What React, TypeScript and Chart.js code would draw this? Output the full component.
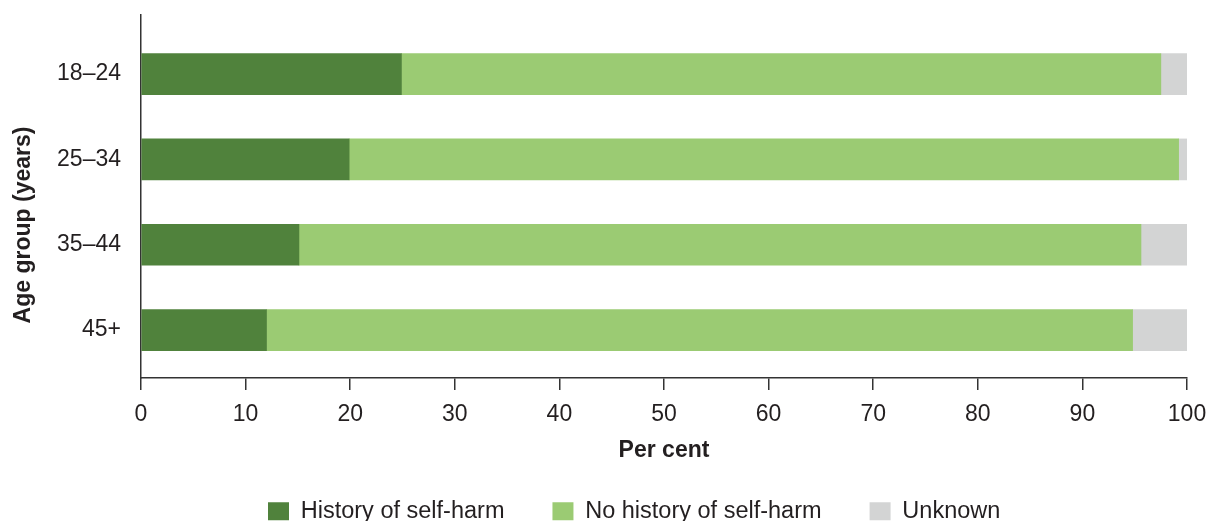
import React, { useEffect, useRef } from "react";
import { Chart, registerables } from "chart.js";

Chart.register(...registerables);

const categories = ["18–24", "25–34", "35–44", "45+"];
const seriesNames = ["History of self-harm", "No history of self-harm", "Unknown"];
const historyValues = [24.9, 19.9, 15.1, 12.0];
const noHistoryValues = [72.6, 79.3, 80.5, 82.8];
const unknownValues = [2.5, 0.8, 4.4, 5.2];
const seriesColors = ["#50823C", "#9BCB73", "#D3D4D4"];
const xAxisTitle = "Per cent";
const yAxisTitle = "Age group (years)";

const FONT = '"Liberation Sans", Arial, Helvetica, sans-serif';
const TEXT = "#231F20";
const AXIS = "#333333";

export default function App() {
  const ref = useRef<HTMLCanvasElement | null>(null);

  useEffect(() => {
    if (!ref.current) return;
    const toPoints = (vals: number[]) => vals.map((v, i) => ({ x: v, y: i }));
    const seriesValues = [historyValues, noHistoryValues, unknownValues];

    const customPlugin = {
      id: "customLayout",
      afterLayout(chart: any) {
        const lg = chart.legend;
        if (lg && lg.lineWidths) {
          const pad = lg.options.labels.padding;
          const cx = (lg.left + pad + lg.right - lg.lineWidths[0]) / 2;
          const dx = 268 - cx;
          lg.left += dx;
          lg.right += dx;
          lg.top -= 12.5;
        }
      },
      afterDraw(chart: any) {
        const ctx = chart.ctx;
        ctx.save();
        ctx.translate(24, 225);
        ctx.rotate(-Math.PI / 2);
        ctx.font = `bold 23px ${FONT}`;
        ctx.fillStyle = TEXT;
        ctx.textAlign = "center";
        ctx.textBaseline = "middle";
        ctx.fillText(yAxisTitle, 0, 0);
        ctx.restore();
      },
    };

    const chart = new Chart(ref.current, {
      type: "bar",
      data: {
        datasets: seriesNames.map((name, k) => ({
          label: name,
          data: toPoints(seriesValues[k]),
          backgroundColor: seriesColors[k],
          borderWidth: 0,
          barThickness: 41,
        })),
      },
      options: {
        indexAxis: "y",
        animation: false,
        responsive: false,
        maintainAspectRatio: false,
        layout: { padding: { top: 15, right: 24, left: 0, bottom: 0 } },
        plugins: {
          tooltip: { enabled: false },
          legend: {
            position: "bottom",
            maxHeight: 57,
            labels: {
              boxWidth: 21,
              boxHeight: 18,
              padding: 48,
              color: TEXT,
              font: { family: FONT, size: 23.5 },
            },
          },
        },
        scales: {
          x: {
            type: "linear",
            stacked: true,
            min: 0,
            max: 100,
            afterFit: (s: any) => {
              s.height = 86;
              s.paddingLeft = 0;
              s.paddingRight = 0;
            },
            ticks: {
              stepSize: 10,
              padding: 11,
              color: TEXT,
              font: { family: FONT, size: 23 },
            },
            grid: {
              display: true,
              drawOnChartArea: false,
              drawTicks: true,
              tickLength: 12,
              color: AXIS,
              lineWidth: 1.5,
            },
            border: { display: true, color: AXIS, width: 1.5 },
            title: {
              display: true,
              text: xAxisTitle,
              color: TEXT,
              font: { family: FONT, size: 23, weight: "bold" },
              padding: { top: 0, bottom: 0 },
            },
          },
          y: {
            type: "linear",
            stacked: true,
            reverse: true,
            offset: false,
            bounds: "data",
            min: -0.692,
            max: 3.561,
            afterBuildTicks: (s: any) => {
              s.ticks = categories.map((_, i) => ({ value: i }));
            },
            afterFit: (s: any) => {
              s.width = 141;
              s.paddingTop = 0;
              s.paddingBottom = 0;
            },
            ticks: {
              autoSkip: false,
              padding: 20,
              color: TEXT,
              font: { family: FONT, size: 23 },
              callback: (v: any) => {
                const n = Math.round(Number(v));
                return n >= 0 && n < categories.length ? categories[n] : "";
              },
            },
            grid: { display: true, drawOnChartArea: false, drawTicks: false, color: AXIS, offset: false },
            border: { display: true, color: AXIS, width: 1.5 },
          },
        },
      },
      plugins: [customPlugin],
    } as any);

    return () => chart.destroy();
  }, []);

  return (
    <div style={{ position: "absolute", left: 0, top: 0, width: 1211, height: 521, background: "#fff" }}>
      <canvas ref={ref} width={1211} height={521} style={{ display: "block" }} />
    </div>
  );
}
